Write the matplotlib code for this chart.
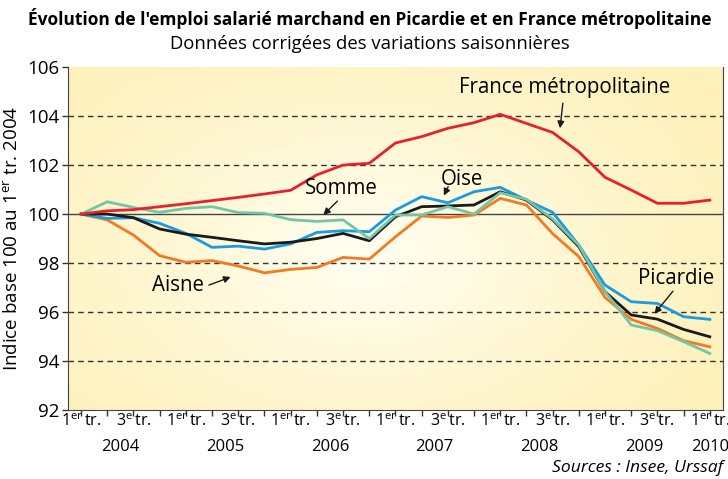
import numpy as np
import matplotlib.pyplot as plt
from matplotlib.colors import LinearSegmentedColormap

plt.rcParams['font.family'] = ['Open Sans', 'DejaVu Sans']
plt.rcParams['mathtext.fontset'] = 'custom'
plt.rcParams['mathtext.rm'] = 'Open Sans'

# trimestres 2004T1 .. 2010T1
quarters = list(range(25))
france = [100.0, 100.13, 100.18, 100.3, 100.42, 100.55, 100.68, 100.82, 100.97,
          101.6, 102.0, 102.07, 102.9, 103.16, 103.5, 103.73, 104.07, 103.7,
          103.33, 102.54, 101.5, 100.98, 100.44, 100.44, 100.57]
picardie = [100.0, 100.0, 99.85, 99.39, 99.18, 99.05, 98.91, 98.78, 98.85,
            99.0, 99.21, 98.91, 99.89, 100.3, 100.33, 100.37, 100.91, 100.57,
            99.76, 98.67, 96.83, 95.88, 95.71, 95.29, 94.99]
oise = [100.0, 99.82, 99.85, 99.62, 99.21, 98.64, 98.69, 98.57, 98.78,
        99.25, 99.32, 99.28, 100.16, 100.71, 100.46, 100.91, 101.09, 100.57,
        100.07, 98.73, 97.1, 96.42, 96.35, 95.81, 95.7]
aisne = [100.0, 99.76, 99.14, 98.3, 98.03, 98.1, 97.88, 97.6, 97.74,
         97.82, 98.23, 98.16, 99.07, 99.92, 99.86, 99.96, 100.64, 100.37,
         99.2, 98.26, 96.6, 95.7, 95.33, 94.83, 94.58]
somme = [100.0, 100.5, 100.27, 100.07, 100.23, 100.3, 100.06, 100.03, 99.77,
         99.7, 99.76, 99.0, 99.96, 99.96, 100.3, 100.0, 100.87, 100.6,
         99.8, 98.73, 96.83, 95.47, 95.24, 94.79, 94.31]

years = ['2004', '2005', '2006', '2007', '2008', '2009', '2010']
year_pos = [1.5, 5.5, 9.5, 13.5, 17.5, 21.5, 24]
yticks = [92, 94, 96, 98, 100, 102, 104, 106]

fig = plt.figure(figsize=(7.28, 4.79), dpi=100)
ax = fig.add_axes([0.0934, 0.144, 0.8996, 0.716])

# fond jaune degrade
gx, gy = np.meshgrid(np.linspace(0, 1, 300), np.linspace(0, 1, 200))
r = np.sqrt(((gx - 0.45) / 1.0) ** 2 + ((gy - 0.55) / 1.2) ** 2)
cmap = LinearSegmentedColormap.from_list('fond', ['#fffef2', '#fff7d2', '#fdf0b8'])
ax.imshow(r, extent=[-0.5, 24.5, 92, 106], aspect='auto', cmap=cmap,
          vmin=0, vmax=0.65, zorder=0)

for v in [94, 96, 98, 102, 104]:
    ax.axhline(v, color='#333333', lw=1, ls=(0, (4, 3)), zorder=1)
ax.axhline(100, color='#444444', lw=1, zorder=1)

ax.plot(quarters, aisne, color='#f47920', lw=2, zorder=3)
ax.plot(quarters, oise, color='#1b9be0', lw=2, zorder=3)
ax.plot(quarters, picardie, color='#1a1a1a', lw=2, zorder=3)
ax.plot(quarters, somme, color='#72c6a6', lw=2, zorder=3)
ax.plot(quarters, france, color='#e8202a', lw=2, zorder=3)

ax.set_xlim(-0.5, 24.5)
ax.set_ylim(92, 106)
ax.set_yticks(yticks)
ax.set_yticklabels([str(v) for v in yticks], fontsize=13.5)
ax.set_xticks(quarters)
ax.set_xticklabels([])
ax.tick_params(axis='both', direction='out', length=4, width=1, color='#333333')
ax.tick_params(axis='y', pad=2)
for s in ['left', 'bottom', 'right']:
    ax.spines[s].set_color('#444444')
ax.spines['top'].set_visible(False)

for q in quarters[::2]:
    lab = r'$1^{\mathrm{er}}\,$tr.' if q % 4 == 0 else r'$3^{\mathrm{e}}\,$tr.'
    ax.text(q, 91.85, lab, ha='center', va='top', fontsize=11.5)
for yr, p in zip(years, year_pos):
    ax.text(p, 90.8, yr, ha='center', va='top', fontsize=12)

ax.set_ylabel(r'Indice base 100 au 1$^{\mathrm{er}}$ tr. 2004', fontsize=13.5, labelpad=4)

fig.text(0.508, 0.962, "Évolution de l'emploi salarié marchand en Picardie et en France métropolitaine",
         ha='center', va='center', fontsize=12.5, fontweight='bold', fontstretch='condensed')
fig.text(0.508, 0.909, 'Données corrigées des variations saisonnières',
         ha='center', va='center', fontsize=13.3)
fig.text(0.993, 0.022, 'Sources : Insee, Urssaf', ha='right', va='center',
         fontsize=12.6, style='italic')

arr = dict(arrowstyle='-|>', color='#1a1a1a', lw=1, mutation_scale=10)
ax.annotate('France métropolitaine', xy=(18.27, 103.39), xytext=(18.46, 105.18),
            ha='center', va='center', fontsize=14.8, arrowprops=arr, zorder=5)
ax.annotate('', xy=(9.17, 99.88), xytext=(9.86, 100.61), arrowprops=arr)
ax.text(9.94, 101.06, 'Somme', ha='center', va='center', fontsize=14.8)
ax.annotate('', xy=(13.8, 100.65), xytext=(14.06, 101.22), arrowprops=arr)
ax.text(14.52, 101.39, 'Oise', ha='center', va='center', fontsize=14.8)
ax.annotate('', xy=(5.81, 97.47), xytext=(4.78, 97.06), arrowprops=arr)
ax.text(3.71, 97.1, 'Aisne', ha='center', va='center', fontsize=14.8)
ax.annotate('', xy=(21.82, 95.84), xytext=(22.66, 96.94), arrowprops=arr)
ax.text(22.7, 97.35, 'Picardie', ha='center', va='center', fontsize=14.8)

fig.savefig('out.png', dpi=100)
